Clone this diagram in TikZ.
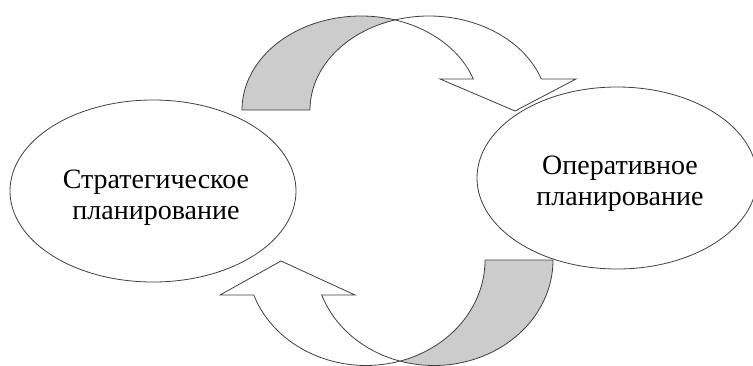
\documentclass[tikz,border=0pt]{standalone}
\usepackage{fontspec}
\setmainfont{Liberation Serif}
\usetikzlibrary{shapes.geometric}
\definecolor{lc}{RGB}{64,64,64}
\definecolor{shadegray}{RGB}{204,204,204}
\begin{document}
\begin{tikzpicture}[x=1bp,y=1bp,
  outline/.style={draw=lc, line width=0.8bp, line join=miter},
  bubble/.style={outline, fill=white, ellipse, minimum height=182bp, inner sep=0pt},
  lbl/.style={font=\fontsize{28bp}{31bp}\selectfont, align=center, inner sep=0pt, text=black}]
\useasboundingbox (0,0) rectangle (753,365);
\clip (0,0) rectangle (753,365);

% ellipses
\node[bubble, minimum width=286bp] (strat) at (153,174) {};
\node[bubble, minimum width=280bp] (oper) at (617,187) {};
\node[lbl] (stratlabel) at (156,167) {Стратегическое\\планирование};
\node[lbl] (operlabel) at (620,181) {Оперативное\\планирование};

% top curved arrow: shaded back part
\draw[outline, fill=shadegray] (242,255)
  arc[start angle=180, end angle=73.4, x radius=119bp, y radius=94bp]
  arc[start angle=106.6, end angle=180, x radius=119bp, y radius=94bp] -- cycle;
% top curved arrow: white front with head
\draw[outline, fill=white] (395,345.06)
  arc[start angle=106.6, end angle=19.26, x radius=119bp, y radius=94bp]
  -- (576,286) -- (515,254) -- (440,286) -- (473.33,286)
  arc[start angle=19.26, end angle=73.4, x radius=119bp, y radius=94bp] -- cycle;

% bottom curved arrow: shaded back part
\draw[outline, fill=shadegray] (553,105)
  arc[start angle=0, end angle=-106.6, x radius=119bp, y radius=105.5bp]
  arc[start angle=-73.4, end angle=0, x radius=119bp, y radius=105.5bp] -- cycle;
% bottom curved arrow: white front with head
\draw[outline, fill=white] (400,3.93)
  arc[start angle=-73.4, end angle=-160.63, x radius=119bp, y radius=105.5bp]
  -- (220,70) -- (281,104) -- (355,70) -- (321.74,70)
  arc[start angle=-160.63, end angle=-106.6, x radius=119bp, y radius=105.5bp] -- cycle;
\end{tikzpicture}
\end{document}
